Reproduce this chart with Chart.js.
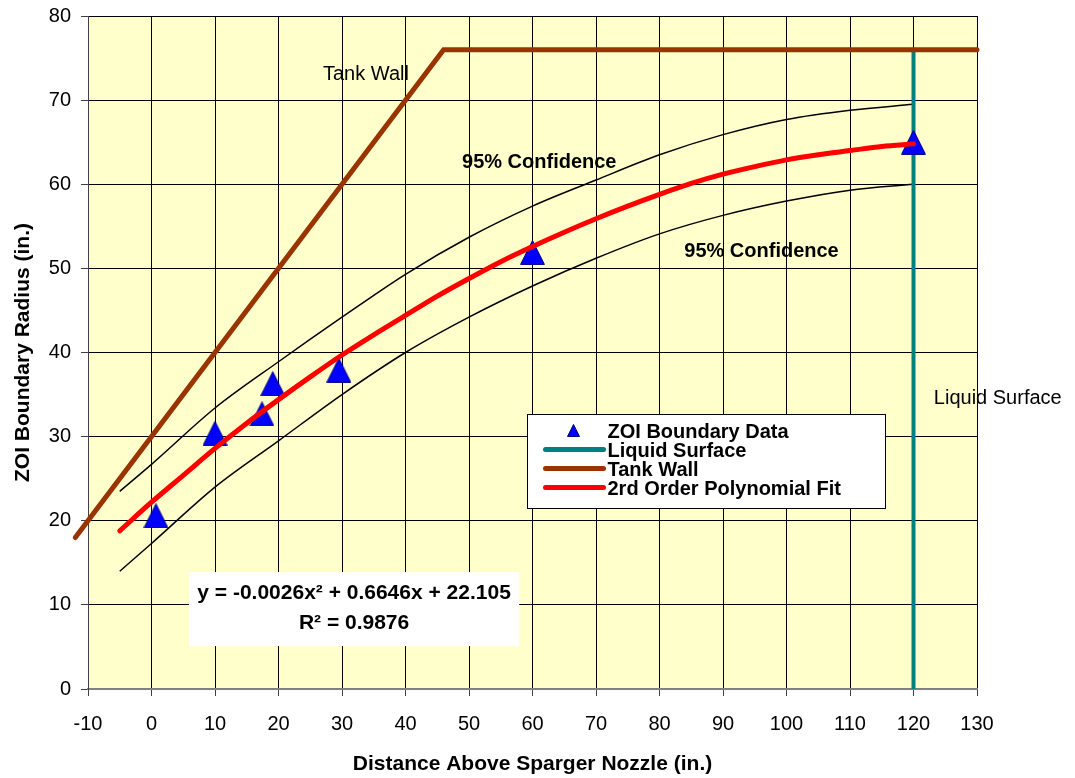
<!DOCTYPE html>
<html lang="en">
<head>
<meta charset="UTF-8">
<title>ZOI Boundary Radius</title>
<style>
  html, body { margin: 0; padding: 0; background: #fff; }
  #zoi { display: block; }
</style>
</head>
<body>
<canvas id="zoi" width="1075" height="778"></canvas>
<script src="https://cdn.jsdelivr.net/npm/chart.js"></script>
<script>
// measured ZOI boundary radius vs. distance above the sparger nozzle
const dataX = [0.7, 10, 17.4, 19.1, 29.5, 60, 120];
const dataY = [20.6, 30.4, 32.7, 36.3, 37.9, 51.9, 65.0];

// 2nd order polynomial fit, every 5 in.
const fitX = [-5, 0, 5, 10, 15, 20, 25, 30, 35, 40, 45, 50, 55, 60, 65, 70, 75, 80, 85, 90, 95, 100, 105, 110, 115, 120];
const fitY = [18.8, 22.2, 25.4, 28.6, 31.6, 34.4, 37.1, 39.7, 42.1, 44.4, 46.7, 48.8, 50.8, 52.6, 54.3, 55.9, 57.4, 58.8, 60.1, 61.2, 62.1, 62.9, 63.5, 64.0, 64.5, 64.8];

// 95% confidence band
const bandX = [-5, 0, 10, 20, 30, 40, 50, 60, 70, 80, 90, 100, 110, 120];
const upperY = [23.5, 26.7, 33.4, 38.9, 44.2, 49.3, 53.7, 57.4, 60.5, 63.5, 65.9, 67.7, 68.8, 69.5];
const lowerY = [14.0, 17.3, 24.0, 29.5, 35.0, 40.0, 44.2, 47.9, 51.2, 54.1, 56.3, 58.0, 59.3, 60.0];

// tank wall outline and liquid surface
const wallX = [-12, 46, 130];
const wallY = [18, 76, 76];
const surfaceX = [120, 120];
const surfaceY = [0, 76];

const fitEquation = 'y = -0.0026x² + 0.6646x + 22.105';
const fitR2 = 'R² = 0.9876';

const FONT = "'Liberation Sans', Arial, sans-serif";
const pts = (xs, ys) => xs.map((x, i) => ({ x: x, y: ys[i] }));

// blue triangle marker with navy outline
const marker = document.createElement('canvas');
marker.width = 25;
marker.height = 25;
(function () {
  const c = marker.getContext('2d');
  c.beginPath();
  c.moveTo(12.5, 0.6);
  c.lineTo(24.4, 24.4);
  c.lineTo(0.6, 24.4);
  c.closePath();
  c.fillStyle = '#0000FF';
  c.fill();
  c.strokeStyle = '#000080';
  c.lineWidth = 1;
  c.stroke();
})();

const plotBackground = {
  id: 'plotBackground',
  beforeDraw(chart) {
    const { ctx, chartArea: a } = chart;
    ctx.save();
    ctx.fillStyle = '#FFFFCC';
    ctx.fillRect(a.left, a.top, a.right - a.left, a.bottom - a.top);
    ctx.restore();
  }
};

const annotations = {
  id: 'annotations',
  afterDatasetsDraw(chart) {
    const { ctx, scales: { x, y } } = chart;
    const px = v => x.getPixelForValue(v);
    const py = v => y.getPixelForValue(v);
    ctx.save();
    ctx.fillStyle = '#000';
    ctx.textAlign = 'left';
    ctx.textBaseline = 'alphabetic';

    ctx.font = '20px ' + FONT;
    ctx.fillText('Tank Wall', px(27.0), py(72.4));
    ctx.fillText('Liquid Surface', px(123.2), py(33.9));
    ctx.font = 'bold 20px ' + FONT;
    ctx.fillText('95% Confidence', px(48.9), py(61.9));
    ctx.fillText('95% Confidence', px(83.9), py(51.35));

    // fit equation box
    const ex0 = px(5.9), ex1 = px(57.9), ey0 = py(13.9), ey1 = py(5.1);
    ctx.fillStyle = '#fff';
    ctx.fillRect(ex0, ey0, ex1 - ex0, ey1 - ey0);
    ctx.fillStyle = '#000';
    ctx.textAlign = 'center';
    ctx.font = 'bold 21px ' + FONT;
    ctx.fillText(fitEquation, (ex0 + ex1) / 2, ey0 + 27);
    ctx.fillText(fitR2, (ex0 + ex1) / 2, ey0 + 57);

    // legend box
    const lx = Math.round(px(59.1)) + 0.5, ly = Math.round(py(32.7)) + 0.5;
    const lw = 358, lh = 94;
    ctx.fillStyle = '#fff';
    ctx.fillRect(lx, ly, lw, lh);
    ctx.strokeStyle = '#000';
    ctx.lineWidth = 1;
    ctx.strokeRect(lx, ly, lw, lh);

    const ds = chart.data.datasets;
    ctx.textAlign = 'left';
    ctx.font = 'bold 20px ' + FONT;
    for (let i = 0; i < 4; i++) {
      const base = ly + 23 + i * 19;
      const mid = base - 7;
      if (i === 0) {
        ctx.beginPath();
        ctx.moveTo(lx + 46, mid - 6);
        ctx.lineTo(lx + 52, mid + 6);
        ctx.lineTo(lx + 40, mid + 6);
        ctx.closePath();
        ctx.fillStyle = '#0000FF';
        ctx.fill();
        ctx.strokeStyle = '#000080';
        ctx.stroke();
      } else {
        ctx.beginPath();
        ctx.moveTo(lx + 18, mid);
        ctx.lineTo(lx + 76, mid);
        ctx.strokeStyle = ds[i].borderColor;
        ctx.lineWidth = 5;
        ctx.lineCap = 'round';
        ctx.stroke();
        ctx.lineWidth = 1;
      }
      ctx.fillStyle = '#000';
      ctx.fillText(ds[i].label, lx + 80, base);
    }
    ctx.restore();
  }
};

new Chart(document.getElementById('zoi'), {
  type: 'scatter',
  data: {
    datasets: [
      {
        label: 'ZOI Boundary Data',
        data: pts(dataX, dataY),
        pointStyle: marker,
        pointRadius: 12,
        showLine: false,
        order: 1
      },
      {
        label: 'Liquid Surface',
        data: pts(surfaceX, surfaceY),
        showLine: true,
        borderColor: '#008080',
        borderWidth: 4,
        pointRadius: 0,
        order: 3
      },
      {
        label: 'Tank Wall',
        data: pts(wallX, wallY),
        showLine: true,
        borderColor: '#993300',
        borderWidth: 5,
        borderCapStyle: 'round',
        pointRadius: 0,
        clip: false,
        order: 2
      },
      {
        label: '2rd Order Polynomial Fit',
        data: pts(fitX, fitY),
        showLine: true,
        borderColor: '#FF0000',
        borderWidth: 5,
        borderCapStyle: 'round',
        cubicInterpolationMode: 'monotone',
        pointRadius: 0,
        order: 0
      },
      {
        label: '95% Confidence',
        data: pts(bandX, upperY),
        showLine: true,
        borderColor: '#000',
        borderWidth: 1.5,
        cubicInterpolationMode: 'monotone',
        pointRadius: 0,
        order: 4
      },
      {
        label: '95% Confidence',
        data: pts(bandX, lowerY),
        showLine: true,
        borderColor: '#000',
        borderWidth: 1.5,
        cubicInterpolationMode: 'monotone',
        pointRadius: 0,
        order: 4
      }
    ]
  },
  options: {
    responsive: false,
    animation: false,
    events: [],
    layout: { padding: { top: 16, right: 98, left: 0, bottom: 0 } },
    plugins: {
      legend: { display: false },
      tooltip: { enabled: false }
    },
    scales: {
      x: {
        type: 'linear',
        min: -10,
        max: 130,
        ticks: { stepSize: 10, color: '#000', padding: 16, font: { family: FONT, size: 20 } },
        grid: { color: '#000', lineWidth: 1, tickLength: 7, tickColor: '#404040' },
        border: { color: '#808080', width: 2 },
        title: {
          display: true,
          text: 'Distance Above Sparger Nozzle (in.)',
          color: '#000',
          font: { family: FONT, size: 21, weight: 'bold' },
          padding: { top: 0, bottom: 1 }
        },
        afterFit(s) {
          s.height = 89;
          s.paddingLeft = 0;
          s.paddingRight = 0;
        }
      },
      y: {
        type: 'linear',
        min: 0,
        max: 80,
        ticks: { stepSize: 10, color: '#000', padding: 10, font: { family: FONT, size: 20 } },
        grid: { color: '#000', lineWidth: 1, tickLength: 7, tickColor: '#404040' },
        border: { color: '#404040', width: 1 },
        title: {
          display: true,
          text: 'ZOI Boundary Radius (in.)',
          color: '#000',
          font: { family: FONT, size: 21, weight: 'bold' },
          padding: { top: 11, bottom: 0 }
        },
        afterFit(s) {
          s.width = 88;
          s.paddingTop = 0;
          s.paddingBottom = 0;
        }
      }
    }
  },
  plugins: [plotBackground, annotations]
});
</script>
</body>
</html>
